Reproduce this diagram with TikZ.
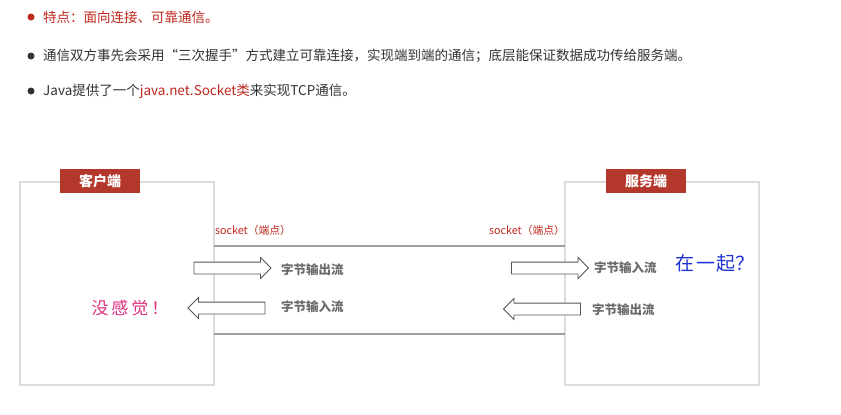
\documentclass[tikz,border=0pt]{standalone}
\usepackage{fontspec}
\setmainfont{Noto Sans CJK SC}
\usetikzlibrary{shapes.arrows}
\definecolor{brick}{HTML}{B3372A}
\definecolor{tipred}{HTML}{C0281E}
\definecolor{textgray}{HTML}{333333}
\definecolor{boxgray}{HTML}{DCDCDC}
\definecolor{streamgray}{HTML}{6A6A6A}
\definecolor{arrowgray}{HTML}{555555}
\definecolor{feelpink}{HTML}{E0307E}
\definecolor{askblue}{HTML}{1E32D2}

\begin{document}
\begin{tikzpicture}[
  x=1pt, y=-1pt,
  dot/.style={circle, inner sep=0pt, minimum size=7pt},
  linetext/.style={anchor=west, inner sep=0pt, text=textgray,
    font=\fontsize{13.5}{15}\selectfont},
  endbox/.style={draw=boxgray, line width=2.5pt, inner sep=0pt,
    minimum width=194pt, minimum height=203pt},
  tag/.style={fill=brick, text=white, inner sep=0pt,
    font=\fontsize{14}{16}\selectfont\bfseries,
    minimum width=80pt, minimum height=24pt},
  socklabel/.style={text=tipred, inner sep=0pt,
    font=\fontsize{10.8}{12}\selectfont},
  streamlabel/.style={anchor=west, text=streamgray, inner sep=0pt,
    font=\fontsize{12.5}{14}\selectfont\bfseries},
  hollowright/.style={single arrow, draw=arrowgray, fill=white,
    line width=0.9pt, inner xsep=0pt, inner ysep=5.5pt,
    minimum height=77pt, single arrow head extend=4.5pt},
  hollowleft/.style={hollowright, shape border rotate=180},
  link/.style={draw=gray!75, line width=1.4pt}
]
  \useasboundingbox[fill=white] (0,0) rectangle (841,415);

  \node[dot, fill=tipred] (b1) at (31,17) {};
  \node[dot, fill=textgray] (b2) at (31,56) {};
  \node[dot, fill=textgray] (b3) at (31,91) {};
  \node[linetext, text=tipred] (t1) at (43,17) {特点：面向连接、可靠通信。};
  \node[linetext] (t2) at (43,56)
    {通信双方事先会采用“三次握手”方式建立可靠连接，实现端到端的通信；底层能保证数据成功传给服务端。};
  \node[linetext] (t3) at (43,91)
    {Java提供了一个\textcolor{tipred}{java.net.Socket类}来实现TCP通信。};

  \node[endbox] (client) at (117,283.5) {};
  \node[endbox] (server) at (662,283.5) {};
  \node[tag] (ctag) at (100,181) {客户端};
  \node[tag] (stag) at (646,181) {服务端};

  \coordinate (ctop) at (214,246);
  \coordinate (stop) at (565,246);
  \coordinate (cbot) at (214,334);
  \coordinate (sbot) at (565,334);
  \draw[link] (ctop) -- (stop);
  \draw[link] (cbot) -- (sbot);

  \node[socklabel] (csock) at (253,230) {socket（端点）};
  \node[socklabel] (ssock) at (527,230) {socket（端点）};

  \node[hollowright] (cout) at (229.5,268) {};
  \node[hollowleft] (cin) at (229.5,308) {};
  \node[hollowright] (sin) at (547,268) {};
  \node[hollowleft] (sout) at (545,309) {};

  \node[streamlabel] (coutlbl) at (281,270) {字节输出流};
  \node[streamlabel] (cinlbl) at (281,307) {字节输入流};
  \node[streamlabel] (sinlbl) at (594,268) {字节输入流};
  \node[streamlabel] (soutlbl) at (592,310) {字节输出流};

  \node[text=feelpink, font=\fontsize{17}{18}\selectfont] (feel) at (130,308)
    {没\hspace{3pt}感\hspace{3pt}觉\hspace{3pt}！};
  \node[text=askblue, font=\fontsize{19}{20}\selectfont] (ask) at (715,263)
    {在\hspace{2pt}一\hspace{2pt}起？};
\end{tikzpicture}
\end{document}
